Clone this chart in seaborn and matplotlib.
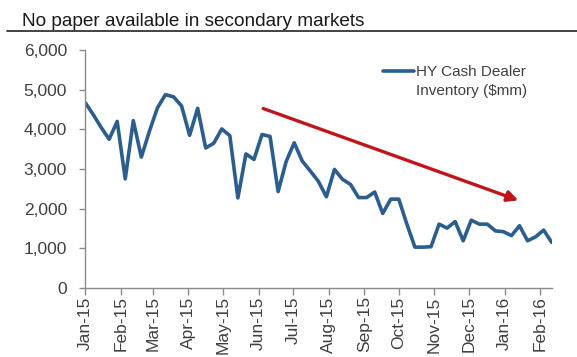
import numpy as np
import pandas as pd
import matplotlib
matplotlib.use("Agg")
import matplotlib.pyplot as plt
import matplotlib.dates as mdates
from matplotlib.lines import Line2D
from matplotlib.legend_handler import HandlerLine2D
import seaborn as sns

# ---- data ----
title = "No paper available in secondary markets"
series_label = "HY Cash Dealer\nInventory ($mm)"
start_date = "2015-01-01"
inventory = [
    4680, 4380, 4050, 3750, 4200, 2750, 4220, 3300, 3950, 4540,
    4875, 4820, 4590, 3850, 4530, 3530, 3650, 4010, 3840, 2270,
    3380, 3240, 3870, 3820, 2430, 3190, 3660, 3200, 2950, 2690,
    2300, 2990, 2740, 2610, 2280, 2280, 2420, 1880, 2240, 2240,
    1610, 1030, 1030, 1040, 1610, 1510, 1675, 1190, 1710, 1610,
    1610, 1440, 1420, 1320, 1570, 1190, 1290, 1460, 1150,
]
dates = pd.date_range(start_date, periods=len(inventory), freq="7D")
y_ticks = [0, 1000, 2000, 3000, 4000, 5000, 6000]
arrow_start = ("2015-06-05", 4525)
arrow_end = ("2016-01-13", 2210)

df = pd.DataFrame({"date": dates, "value": inventory})

sns.set_theme(style="white")
plt.rcParams["font.family"] = ["Liberation Sans", "DejaVu Sans"]

fig = plt.figure(figsize=(5.77, 3.57), dpi=100)
ax = fig.add_axes([85 / 577, 1 - 288 / 357, (551.7 - 85) / 577, (288 - 50) / 357])

line_color = "#2C5D8F"
sns.lineplot(data=df, x="date", y="value", ax=ax, color=line_color,
             linewidth=2.6, label=series_label)

ax.set_xlim(dates[0], dates[-1])
ax.set_ylim(0, 6000)
ax.set_yticks(y_ticks)
ax.yaxis.set_major_formatter(matplotlib.ticker.FuncFormatter(lambda v, p: f"{int(v):,}"))
ax.xaxis.set_major_locator(mdates.MonthLocator())
ax.xaxis.set_major_formatter(mdates.DateFormatter("%b-%y"))
ax.set_xlabel("")
ax.set_ylabel("")

for s in ["top", "right"]:
    ax.spines[s].set_visible(False)
for s in ["left", "bottom"]:
    ax.spines[s].set_color("#8a8a8a")
    ax.spines[s].set_linewidth(1.0)

ax.tick_params(axis="y", which="major", direction="out", length=4, width=1,
               color="#8a8a8a", labelsize=12.5, labelcolor="#404040", pad=9, left=True)
ax.tick_params(axis="x", which="major", direction="out", length=5, width=1,
               color="#8a8a8a", labelsize=12.5, labelcolor="#404040", pad=1, bottom=True)
for lab in ax.get_xticklabels():
    lab.set_rotation(90)
    lab.set_va("top")
    lab.set_ha("center")


class UpHandler(HandlerLine2D):
    def create_artists(self, *args, **kwargs):
        arts = super().create_artists(*args, **kwargs)
        for a in arts:
            a.set_ydata(np.asarray(a.get_ydata()) + 7.5)
        return arts


handles, labels = ax.get_legend_handles_labels()
leg = ax.legend(handles, labels, loc="upper left", bbox_to_anchor=(0.61, 0.995),
                frameon=False, fontsize=11, handlelength=2.0, handletextpad=0.15,
                handler_map={handles[0]: UpHandler()})
for t in leg.get_texts():
    t.set_color("#404040")
    t.set_linespacing(1.45)

ax.annotate("", xy=(pd.Timestamp(arrow_end[0]), arrow_end[1]),
            xytext=(pd.Timestamp(arrow_start[0]), arrow_start[1]),
            arrowprops=dict(arrowstyle="-|>", color="#C0161B", lw=2.4,
                            mutation_scale=16, shrinkA=0, shrinkB=0))

fig.text(22 / 577, 1 - 26 / 357, title, fontsize=13.7, color="#1a1a1a",
         ha="left", va="baseline")
fig.add_artist(Line2D([7 / 577, 1.0], [1 - 31 / 357, 1 - 31 / 357],
                      transform=fig.transFigure, color="#222222", lw=1.2))

fig.savefig("out.png", dpi=100)
